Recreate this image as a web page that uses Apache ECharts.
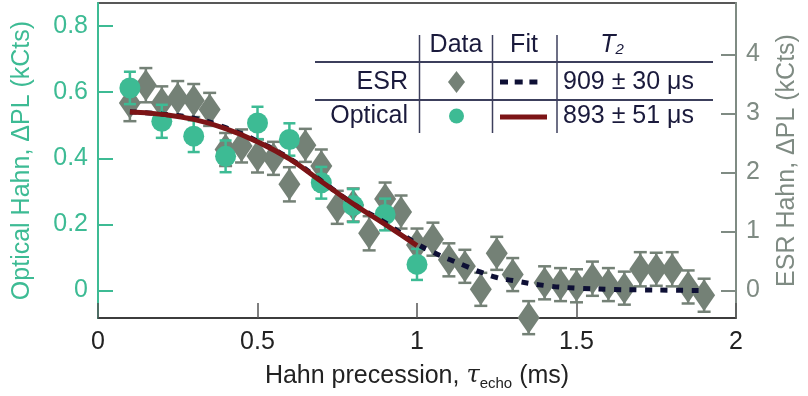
<!DOCTYPE html>
<html><head><meta charset="utf-8">
<script src="https://cdn.jsdelivr.net/npm/echarts@6/dist/echarts.min.js"></script>
<style>html,body{margin:0;padding:0;background:#fff}#c{width:808px;height:396px}</style>
</head><body><div id="c"></div>
<script>
// ---- data ----
const opticalX   = [0.1, 0.2, 0.3, 0.4, 0.5, 0.6, 0.7, 0.8, 0.9, 1.0];
const opticalY   = [0.613, 0.512, 0.467, 0.406, 0.507, 0.457, 0.326, 0.257, 0.230, 0.079];
const opticalErr = [0.049, 0.050, 0.048, 0.048, 0.049, 0.049, 0.048, 0.050, 0.048, 0.047];

const esrX   = [0.1, 0.15, 0.2, 0.25, 0.3, 0.35, 0.4, 0.45, 0.5, 0.55, 0.6, 0.65, 0.7, 0.75, 0.8, 0.85, 0.9, 0.95, 1.0,
                1.05, 1.1, 1.15, 1.2, 1.25, 1.3, 1.35, 1.4, 1.45, 1.5, 1.55, 1.6, 1.65, 1.7, 1.75, 1.8, 1.85, 1.9];
const esrY   = [3.18, 3.48, 3.18, 3.26, 3.22, 3.07, 2.39, 2.45, 2.28, 2.24, 1.80, 2.46, 2.11, 1.41, 1.45, 0.97, 1.55, 1.33, 0.77,
                0.87, 0.52, 0.41, 0.02, 0.63, 0.27, -0.46, 0.13, 0.10, 0.08, 0.20, 0.10, 0.04, 0.36, 0.36, 0.36, 0.06, -0.08];
const esrErr = [0.31, 0.29, 0.28, 0.29, 0.28, 0.28, 0.28, 0.28, 0.28, 0.28, 0.29, 0.28, 0.28, 0.28, 0.28, 0.29, 0.28, 0.28, 0.28,
                0.28, 0.28, 0.28, 0.28, 0.28, 0.28, 0.28, 0.28, 0.28, 0.28, 0.29, 0.28, 0.28, 0.29, 0.28, 0.29, 0.28, 0.28];

const fitOptX = [0.1, 0.2, 0.3, 0.4, 0.5, 0.6, 0.7, 0.8, 0.9, 1.0];
const fitOptY = [0.540, 0.533, 0.518, 0.490, 0.450, 0.398, 0.330, 0.262, 0.200, 0.136];

const fitEsrX = [0.1, 0.2, 0.3, 0.4, 0.5, 0.6, 0.7, 0.8, 0.9, 1.0, 1.05, 1.1, 1.15, 1.2, 1.25, 1.3, 1.4, 1.5, 1.6, 1.7, 1.8, 1.9];
const fitEsrY = [3.03, 2.99, 2.92, 2.76, 2.53, 2.24, 1.86, 1.47, 1.15, 0.79, 0.65, 0.53, 0.42, 0.31, 0.22, 0.17, 0.085, 0.04, 0.02, 0.01, 0.005, 0.0];

const xTicks     = [0, 0.5, 1, 1.5, 2];
const leftTicks  = [0, 0.2, 0.4, 0.6, 0.8];
const rightTicks = [0, 1, 2, 3, 4];

const legendRows = ['ESR', 'Optical'];
const legendT2   = ['909 ± 30 μs', '893 ± 51 μs'];
const legendHead = ['Data', 'Fit'];

// ---- style ----
const GREEN = '#3dbb94', GRAY = '#748176', GRAYAX = '#7f8b83', RED = '#7c1416', NAVY = '#0e1035', INK = '#1a1a3c';
const FONT = "'Liberation Sans', Arial, Helvetica, sans-serif";

function errRender(color, capW) {
  return function (params, api) {
    const x = api.value(0), y = api.value(1), e = api.value(2);
    const top = api.coord([x, y + e]);
    const bot = api.coord([x, y - e]);
    const style = { stroke: color, lineWidth: 2.5 };
    return { type: 'group', children: [
      { type: 'line', shape: { x1: top[0], y1: top[1], x2: bot[0], y2: bot[1] }, style },
      { type: 'line', shape: { x1: top[0] - capW / 2, y1: top[1], x2: top[0] + capW / 2, y2: top[1] }, style },
      { type: 'line', shape: { x1: bot[0] - capW / 2, y1: bot[1], x2: bot[0] + capW / 2, y2: bot[1] }, style }
    ] };
  };
}

const zip = (a, b, c) => a.map((v, i) => c ? [v, b[i], c[i]] : [v, b[i]]);

const chart = echarts.init(document.getElementById('c'), null, { renderer: 'canvas' });

const tTxt = { fontFamily: FONT, fontSize: 25, fill: INK };
const graphic = [
  // table lines
  { type: 'line', shape: { x1: 315, y1: 62, x2: 713, y2: 62 }, style: { stroke: '#3c3f5c', lineWidth: 2 } },
  { type: 'line', shape: { x1: 315, y1: 100, x2: 713, y2: 100 }, style: { stroke: '#3c3f5c', lineWidth: 2 } },
  { type: 'line', shape: { x1: 419.5, y1: 35, x2: 419.5, y2: 133 }, style: { stroke: '#3c3f5c', lineWidth: 1.5 } },
  { type: 'line', shape: { x1: 492.5, y1: 35, x2: 492.5, y2: 133 }, style: { stroke: '#3c3f5c', lineWidth: 1.5 } },
  { type: 'line', shape: { x1: 557, y1: 35, x2: 557, y2: 133 }, style: { stroke: '#3c3f5c', lineWidth: 1.5 } },
  // header
  { type: 'text', x: 456, y: 45, style: Object.assign({ text: legendHead[0], align: 'center', verticalAlign: 'middle' }, tTxt) },
  { type: 'text', x: 524, y: 45, style: Object.assign({ text: legendHead[1], align: 'center', verticalAlign: 'middle' }, tTxt) },
  { type: 'text', x: 612, y: 45, style: { text: '{t|T}{s|2}', align: 'center', verticalAlign: 'middle',
      rich: { t: { fontFamily: FONT, fontSize: 25, fontStyle: 'italic', fill: INK },
              s: { fontFamily: FONT, fontSize: 15, fontStyle: 'italic', fill: INK, verticalAlign: 'bottom', lineHeight: 14, padding: [14, 0, 0, 0] } } } },
  // rows
  { type: 'text', x: 408, y: 82, style: Object.assign({ text: legendRows[0], align: 'right', verticalAlign: 'middle' }, tTxt) },
  { type: 'text', x: 408, y: 116, style: Object.assign({ text: legendRows[1], align: 'right', verticalAlign: 'middle' }, tTxt) },
  { type: 'text', x: 563, y: 82, style: Object.assign({ text: legendT2[0], align: 'left', verticalAlign: 'middle' }, tTxt) },
  { type: 'text', x: 563, y: 116, style: Object.assign({ text: legendT2[1], align: 'left', verticalAlign: 'middle' }, tTxt) },
  // legend symbols
  { type: 'polygon', shape: { points: [[456.5, 71], [465, 82], [456.5, 93], [448, 82]] }, style: { fill: GRAY } },
  { type: 'circle', shape: { cx: 456.5, cy: 116, r: 7.5 }, style: { fill: GREEN } },
  { type: 'line', shape: { x1: 500, y1: 82, x2: 538, y2: 82 }, style: { stroke: NAVY, lineWidth: 5, lineDash: [8, 6.7] } },
  { type: 'line', shape: { x1: 500, y1: 117, x2: 547, y2: 117 }, style: { stroke: RED, lineWidth: 5 } }
];

chart.setOption({
  animation: false,
  backgroundColor: '#fff',
  textStyle: { fontFamily: FONT },
  grid: { left: 98, right: 66, top: 3, bottom: 78, show: true, borderColor: '#222', borderWidth: 1.5 },
  xAxis: {
    type: 'value', min: 0, max: 2, interval: 0.5,
    name: '{a|Hahn precession, }{t|τ}{s|echo}{a| (ms)}',
    nameLocation: 'middle', nameGap: 40,
    nameTextStyle: { rich: {
      a: { fontFamily: FONT, fontSize: 25, color: '#222', lineHeight: 30 },
      t: { fontFamily: "'DejaVu Serif', serif", fontStyle: 'italic', fontSize: 24, color: '#222', lineHeight: 30 },
      s: { fontFamily: FONT, fontSize: 15, color: '#222', verticalAlign: 'bottom', lineHeight: 12, padding: [16, 0, 0, 0] } } },
    axisLine: { show: true, onZero: false, lineStyle: { color: '#333', width: 1.5 } },
    axisTick: { show: true, inside: true, length: 15, lineStyle: { color: '#555', width: 1.5 } },
    axisLabel: { fontSize: 25, color: '#222', margin: 12, fontFamily: FONT,
      customValues: xTicks, formatter: v => String(v) },
    splitLine: { show: false }
  },
  yAxis: [
    {
      type: 'value', position: 'left', min: -0.0832, max: 0.870,
      name: 'Optical Hahn, ΔPL (kCts)', nameLocation: 'middle', nameRotate: 90, nameGap: 63,
      nameTextStyle: { fontSize: 25, color: GREEN, fontFamily: FONT },
      axisLine: { show: true, onZero: false, lineStyle: { color: GREEN, width: 2 } },
      axisTick: { show: true, inside: true, length: 15, customValues: leftTicks, lineStyle: { color: GREEN, width: 2 } },
      axisLabel: { fontSize: 25, color: GREEN, margin: 10, fontFamily: FONT, customValues: leftTicks,
        formatter: v => String(v) },
      splitLine: { show: false }
    },
    {
      type: 'value', position: 'right', min: -0.466, max: 4.873,
      name: 'ESR Hahn, ΔPL (kCts)', nameLocation: 'middle', nameRotate: 90, nameGap: 39,
      nameTextStyle: { fontSize: 25, color: GRAYAX, fontFamily: FONT },
      axisLine: { show: true, onZero: false, lineStyle: { color: GRAYAX, width: 2 } },
      axisTick: { show: true, inside: true, length: 15, customValues: rightTicks, lineStyle: { color: GRAYAX, width: 2 } },
      axisLabel: { fontSize: 25, color: GRAYAX, margin: 10, fontFamily: FONT, customValues: rightTicks,
        formatter: v => String(v) },
      splitLine: { show: false }
    }
  ],
  graphic: graphic,
  series: [
    { type: 'custom', name: 'ESR err', yAxisIndex: 1, z: 2, renderItem: errRender(GRAY, 13),
      encode: { x: 0, y: 1 }, data: zip(esrX, esrY, esrErr) },
    { type: 'scatter', name: 'ESR', yAxisIndex: 1, z: 3, clip: false, symbol: 'diamond', symbolSize: [22, 32],
      itemStyle: { color: GRAY, opacity: 1 }, data: zip(esrX, esrY) },
    { type: 'custom', name: 'Optical err', yAxisIndex: 0, z: 4, renderItem: errRender(GREEN, 12),
      encode: { x: 0, y: 1 }, data: zip(opticalX, opticalY, opticalErr) },
    { type: 'scatter', name: 'Optical', yAxisIndex: 0, z: 5, clip: false, symbol: 'circle', symbolSize: 21,
      itemStyle: { color: GREEN, opacity: 1 }, data: zip(opticalX, opticalY) },
    { type: 'line', name: 'ESR fit', yAxisIndex: 1, z: 6, smooth: true, showSymbol: false, symbol: 'none',
      lineStyle: { color: NAVY, width: 5, type: [7, 8.5], cap: 'butt' }, data: zip(fitEsrX, fitEsrY) },
    { type: 'line', name: 'Optical fit', yAxisIndex: 0, z: 7, smooth: true, showSymbol: false, symbol: 'none',
      lineStyle: { color: RED, width: 5 }, data: zip(fitOptX, fitOptY) }
  ]
});
</script></body></html>
